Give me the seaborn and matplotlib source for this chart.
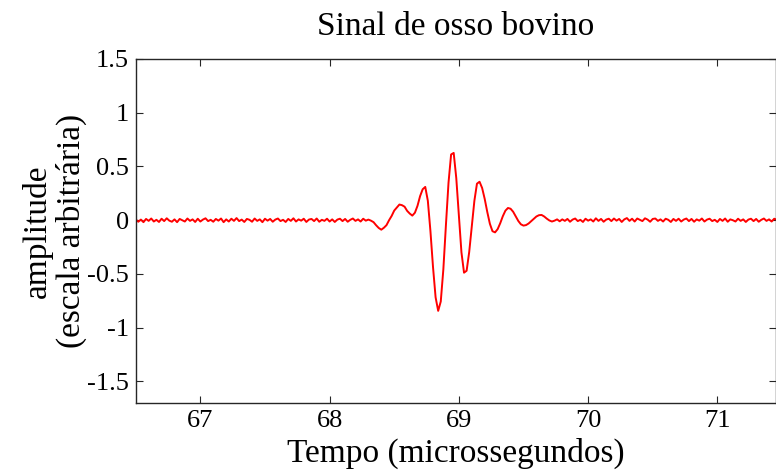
import numpy as np
import pandas as pd
import matplotlib
matplotlib.use("Agg")
import matplotlib.pyplot as plt
import seaborn as sns

# ---------------- data ----------------
t_start_us = 66.50
t_step_us = 0.02

baseline_before = [
    0.008, -0.014, 0.006, -0.018, 0.012, -0.006, 0.016, -0.012, 0.004, -0.016,
    0.014, -0.008, 0.018, -0.004, -0.014, 0.008, -0.018, 0.012, 0.000, -0.012,
    0.016, -0.006, 0.008, -0.016, 0.014, -0.012, 0.006, 0.018, -0.008, 0.004,
    -0.014, 0.012, -0.004, 0.016, -0.018, 0.008, -0.012, 0.014, -0.006, 0.020,
    -0.008, 0.006, -0.016, 0.012, 0.004, -0.014, 0.016, -0.006, 0.008, -0.018,
    0.014, -0.004, 0.012, -0.014, 0.006, 0.016, -0.008, 0.004, -0.016, 0.012,
    -0.006, 0.018, -0.012, 0.008, -0.004, 0.014, -0.016, 0.006, 0.012, -0.008,
    0.016, -0.014, 0.004, -0.006, 0.014, -0.012, 0.008, -0.016, 0.006, 0.014,
    -0.008, 0.012, -0.014, 0.004, 0.016, -0.006, 0.008, -0.012, 0.014, -0.004,
]

echo_burst = [
    0.006, -0.004, -0.018, -0.047, -0.072, -0.088, -0.070, -0.046, 0.000, 0.040,
    0.090, 0.118, 0.146, 0.140, 0.126, 0.087, 0.062, 0.043, 0.070, 0.134,
    0.224, 0.288, 0.310, 0.181, -0.100, -0.435, -0.717, -0.843, -0.756, -0.457,
    -0.043, 0.350, 0.612, 0.626, 0.392, 0.040, -0.299, -0.488, -0.470, -0.296,
    -0.055, 0.180, 0.340, 0.358, 0.300, 0.198, 0.076, -0.033, -0.102, -0.113,
    -0.083, -0.028, 0.037, 0.089, 0.114, 0.107, 0.079, 0.037, -0.007, -0.038,
    -0.050, -0.045, -0.030, -0.008, 0.015, 0.035, 0.047, 0.049, 0.035, 0.015,
    -0.002, -0.012, -0.004, 0.008, -0.010, 0.008,
]

baseline_after = [
    -0.006, 0.012, -0.014, 0.006, 0.016, -0.008, 0.004, -0.016, 0.014, -0.004,
    0.008, -0.012, 0.018, -0.006, 0.012, -0.014, 0.006, 0.014, -0.008, 0.016,
    -0.004, 0.012, -0.016, 0.008, 0.020, -0.006, 0.014, -0.012, 0.016, 0.004,
    -0.008, 0.018, 0.006, -0.014, 0.012, 0.016, -0.006, 0.008, -0.012, 0.014,
    0.004, -0.016, 0.012, -0.006, 0.014, -0.012, 0.006, 0.016, -0.008, 0.012,
    -0.014, 0.008, -0.004, 0.016, -0.012, 0.006, 0.014, -0.008, 0.004, -0.016,
    0.012, -0.006, 0.016, -0.014, 0.008, 0.000, -0.012, 0.014, -0.006, 0.008,
    -0.016, 0.006, 0.014, -0.008, 0.012, -0.014, 0.004, 0.016, -0.006, 0.008,
    -0.012, 0.014, 0.004,
]

x_ticks = [67, 68, 69, 70, 71]
y_ticks = [-1.5, -1, -0.5, 0, 0.5, 1, 1.5]
y_tick_labels = ["-1.5", "-1", "-0.5", "0", "0.5", "1", "1.5"]

title_text = "Sinal de osso bovino"
x_label = "Tempo (microssegundos)"
y_label = "amplitude\n(escala arbitrária)"

# ---------------- build table ----------------
amplitude = np.array(baseline_before + echo_burst + baseline_after)
time_us = t_start_us + t_step_us * np.arange(len(amplitude))
df = pd.DataFrame({"tempo": time_us, "amplitude": amplitude})

# ---------------- style ----------------
sns.set_theme(style="white")
plt.rcParams["font.family"] = ["Liberation Serif", "DejaVu Serif"]
plt.rcParams["axes.unicode_minus"] = False

fig = plt.figure(figsize=(7.76, 4.70), dpi=100)
ax = fig.add_axes([0.1749, 0.1426, 0.8245, 0.7319])

sns.lineplot(data=df, x="tempo", y="amplitude", ax=ax, color="#ff0000",
             linewidth=1.4, estimator=None, sort=False)

ax.set_xlim(66.5, 71.45)
ax.set_ylim(-1.7, 1.5)
ax.set_xticks(x_ticks)
ax.set_xticklabels([str(v) for v in x_ticks])
ax.set_yticks(y_ticks)
ax.set_yticklabels(y_tick_labels)

ax.tick_params(axis="both", which="major", direction="in", length=5, width=0.8,
               color="#262626", labelsize=19, labelcolor="black",
               top=True, right=True, bottom=True, left=True, pad=5)
for sp in ax.spines.values():
    sp.set_visible(True)
    sp.set_color("#262626")
    sp.set_linewidth(1.0)

ax.set_title(title_text, fontsize=24, color="black", pad=17)
ax.set_xlabel(x_label, fontsize=24, color="black", labelpad=4)
ax.set_ylabel(y_label, fontsize=24, color="black", labelpad=0, linespacing=1.1)
ax.grid(False)

fig.savefig("out.png", dpi=100)
